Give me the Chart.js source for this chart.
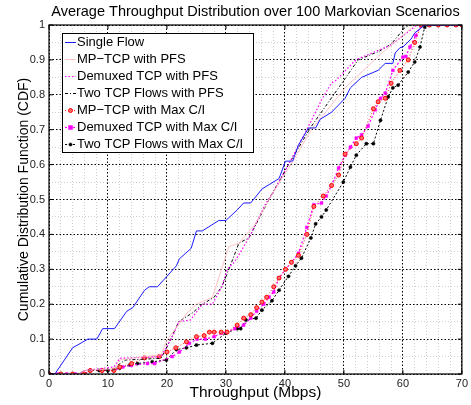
<!DOCTYPE html>
<html>
<head>
<meta charset="utf-8">
<script src="https://cdn.jsdelivr.net/npm/chart.js"></script>
<style>
  html, body { margin: 0; padding: 0; background: #fff; }
  canvas { display: block; }
</style>
</head>
<body>
<canvas id="cdfChart" width="471" height="405"></canvas>
<script>
var chartTitle = 'Average Throughput Distribution over 100 Markovian Scenarios';
var seriesNames = [
  'Single Flow',
  'MP\u2212TCP with PFS',
  'Demuxed TCP with PFS',
  'Two TCP Flows with PFS',
  'MP\u2212TCP with Max C/I',
  'Demuxed TCP with Max C/I',
  'Two TCP Flows with Max C/I'
];
var xTickLabels = [0, 10, 20, 30, 40, 50, 60, 70];
var yTickLabels = [0, 0.1, 0.2, 0.3, 0.4, 0.5, 0.6, 0.7, 0.8, 0.9, 1];

// [throughput Mbps, CDF]
var singleFlow = [[0,0],[1,0],[4,0.075],[6.6,0.1],[8.1,0.1],[9.1,0.13],[11.1,0.13],[13.2,0.18],[14.2,0.19],
  [16.2,0.24],[17,0.25],[18.4,0.25],[20,0.28],[21.6,0.31],[22.1,0.33],[24.1,0.36],[25,0.41],[26,0.41],
  [28.8,0.44],[30,0.44],[31.9,0.47],[33,0.49],[34.2,0.49],[36.1,0.53],[39,0.56],[40.1,0.61],[41.3,0.61],
  [42.3,0.656],[44,0.705],[45.2,0.705],[46,0.73],[47.9,0.75],[50.2,0.79],[51.1,0.82],[53,0.85],[55.8,0.87],
  [57,0.89],[58.3,0.89],[58.7,0.92],[59.5,0.935],[60,0.937],[61.4,0.96],[62,0.977],[63.7,1],[70,1]];
var mptcpPfs = [[0,0],[5,0],[6,0.01],[11,0.015],[12,0.04],[16,0.05],[19,0.055],[20,0.097],[23.4,0.175],
  [25,0.2],[27.7,0.22],[30.5,0.365],[32.2,0.375],[35,0.43],[38,0.52],[41,0.6],[44.5,0.7],[50.2,0.82],
  [55.8,0.91],[61.4,0.99],[62,1],[70,1]];
var demuxPfs = [[0,0],[5,0],[6,0.01],[11,0.02],[12,0.045],[19,0.05],[20,0.08],[21,0.11],[22,0.15],[24,0.155],
  [26,0.2],[27.7,0.2],[29.3,0.25],[30.2,0.3],[31.4,0.32],[32.5,0.35],[34.2,0.4],[35.6,0.45],[36.8,0.49],
  [38,0.52],[40.6,0.6],[44,0.71],[46.2,0.785],[47.9,0.834],[48.7,0.842],[52,0.9],[58,0.943],[59.7,0.965],
  [62.4,1],[70,1]];
var twoTcpPfs = [[0,0],[5,0],[6,0.01],[11,0.012],[12,0.03],[13,0.04],[19,0.045],[20,0.077],[22,0.15],
  [24.3,0.175],[26,0.2],[28,0.22],[29.3,0.25],[30.5,0.3],[32.2,0.375],[33.9,0.39],[37.3,0.5],[40.6,0.6],
  [44.5,0.71],[49.1,0.82],[52.4,0.9],[56,0.925],[58,0.945],[60.4,0.994],[61.5,1],[70,1]];
var mptcpMaxCI = [[0,0],[2,0],[4,0],[6,0],[7,0.01],[9,0.01],[11,0.01],[12,0.02],[14,0.03],[16.2,0.046],
  [18.7,0.05],[20,0.063],[21.5,0.075],[23.3,0.092],[25,0.107],[26.3,0.11],[27.2,0.12],[28,0.12],[29.2,0.12],
  [30.2,0.12],[31.9,0.14],[33,0.16],[34.2,0.17],[35.2,0.19],[36.1,0.206],[36.9,0.22],[38.1,0.25],[39,0.275],
  [40.1,0.3],[41.1,0.32],[42.3,0.34],[43.7,0.4],[44.9,0.48],[46.5,0.51],[47.9,0.54],[49.1,0.57],[50.2,0.63],
  [52.1,0.66],[53,0.676],[55,0.76],[55.8,0.78],[57,0.79],[58,0.833],[59.5,0.87],[60.9,0.9],[62,0.95],
  [63.1,1],[64.5,1],[66,1],[67.5,1],[69,1],[70,1]];
var demuxMaxCI = [[0,0],[1.5,0],[3,0],[4.5,0],[6,0],[7,0.01],[9,0.01],[11,0.01],[12.5,0.02],[14,0.025],
  [16.7,0.03],[17.9,0.03],[20.9,0.05],[22.1,0.063],[23.8,0.088],[25.1,0.1],[26.5,0.1],[28,0.107],[29.2,0.117],
  [30.2,0.12],[31.5,0.13],[33,0.14],[34.2,0.16],[35.2,0.18],[36.4,0.2],[37.3,0.22],[38.1,0.235],[39,0.275],
  [40.1,0.3],[41.1,0.32],[42.3,0.346],[43.7,0.42],[44.9,0.485],[46.2,0.49],[47,0.51],[47.9,0.54],[49.1,0.59],
  [50.2,0.627],[51.1,0.65],[52.1,0.676],[53,0.685],[54.1,0.71],[55.3,0.757],[56.2,0.79],[57,0.805],[58.3,0.87],
  [60,0.908],[60.5,0.91],[61.2,0.937],[62.2,0.97],[63.1,1],[64.5,1],[66,1],[67.5,1],[69,1],[70,1]];
var twoTcpMaxCI = [[0,0],[2,0],[4,0],[6,0],[7,0.01],[8.5,0.01],[10,0.01],[11,0.012],[12,0.017],[13.7,0.026],
  [15,0.03],[17.5,0.035],[19.9,0.04],[21.6,0.07],[23.3,0.075],[25,0.083],[27.7,0.088],[30,0.117],[31.9,0.13],
  [32.5,0.13],[33.4,0.155],[35.1,0.16],[36.1,0.183],[37.8,0.21],[39,0.24],[40.6,0.28],[41.8,0.31],[42.8,0.332],
  [44.4,0.39],[45.2,0.43],[46.2,0.45],[47,0.47],[49.9,0.55],[51.1,0.593],[52.1,0.627],[53.8,0.66],[55,0.66],
  [56.2,0.727],[57.5,0.794],[58.3,0.82],[59.2,0.828],[60.9,0.865],[62,0.894],[62.9,0.937],[63.7,0.994],
  [64.3,1],[66,1],[67.5,1],[69,1],[70,1]];

var FONT = "'Liberation Sans', Arial, Helvetica, sans-serif";

function pts(arr) {
  return arr.map(function (p) { return { x: p[0], y: p[1] }; });
}

function isMajor(v, step) {
  return Math.abs(v / step - Math.round(v / step)) < 1e-6;
}

// title centred over the plot area, like the original figure
var titlePlugin = {
  id: 'plotTitle',
  afterDraw: function (chart) {
    var ctx = chart.ctx, a = chart.chartArea;
    ctx.save();
    ctx.font = '14.5px ' + FONT;
    ctx.fillStyle = '#000';
    ctx.textAlign = 'center';
    ctx.textBaseline = 'middle';
    ctx.fillText(chartTitle, (a.left + a.right) / 2, 12);
    ctx.restore();
  }
};

// box round the axes with inward ticks
var framePlugin = {
  id: 'frame',
  afterDatasetsDraw: function (chart) {
    var ctx = chart.ctx, a = chart.chartArea;
    var xs = chart.scales.x, ys = chart.scales.y;
    ctx.save();
    ctx.strokeStyle = '#000';
    ctx.lineWidth = 1.2;
    ctx.strokeRect(a.left, a.top, a.right - a.left, a.bottom - a.top);
    ctx.lineWidth = 1;
    ctx.beginPath();
    xTickLabels.forEach(function (v) {
      var px = xs.getPixelForValue(v);
      ctx.moveTo(px, a.bottom); ctx.lineTo(px, a.bottom - 4);
      ctx.moveTo(px, a.top); ctx.lineTo(px, a.top + 4);
    });
    yTickLabels.forEach(function (v) {
      var py = ys.getPixelForValue(v);
      ctx.moveTo(a.left, py); ctx.lineTo(a.left + 4, py);
      ctx.moveTo(a.right, py); ctx.lineTo(a.right - 4, py);
    });
    ctx.stroke();
    ctx.restore();
  }
};

var legendPlugin = {
  id: 'boxLegend',
  afterDatasetsDraw: function (chart) {
    var ctx = chart.ctx, a = chart.chartArea;
    var ds = chart.data.datasets;
    var x0 = a.left + 13, y0 = a.top + 8, w = 191, h = 119, rowH = 17;
    ctx.save();
    ctx.fillStyle = '#fff';
    ctx.fillRect(x0, y0, w, h);
    ctx.strokeStyle = '#000';
    ctx.lineWidth = 1;
    ctx.strokeRect(x0 + 0.5, y0 + 0.5, w, h);
    ctx.font = '13px ' + FONT;
    ctx.textBaseline = 'middle';
    ds.forEach(function (d, i) {
      var cy = y0 + 9.5 + i * rowH;
      ctx.strokeStyle = d.borderColor;
      ctx.lineWidth = d.borderWidth;
      ctx.setLineDash(d.borderDash || []);
      ctx.beginPath();
      ctx.moveTo(x0 + 3, cy); ctx.lineTo(x0 + 14, cy);
      ctx.stroke();
      ctx.setLineDash([]);
      if (d.pointRadius > 0) {
        ctx.fillStyle = d.pointBackgroundColor;
        ctx.strokeStyle = d.pointBorderColor;
        ctx.lineWidth = d.pointBorderWidth;
        ctx.beginPath();
        if (d.pointStyle === 'rect') {
          ctx.rect(x0 + 8.5 - d.pointRadius, cy - d.pointRadius, d.pointRadius * 2, d.pointRadius * 2);
        } else {
          ctx.arc(x0 + 8.5, cy, d.pointRadius, 0, Math.PI * 2);
        }
        ctx.fill();
        ctx.stroke();
      }
      ctx.fillStyle = '#000';
      ctx.fillText(d.label, x0 + 15, cy);
    });
    ctx.restore();
  }
};

var lineSeries = [
  { label: seriesNames[0], data: pts(singleFlow), borderColor: '#1a1aff', borderWidth: 1, borderDash: [], pointRadius: 0 },
  { label: seriesNames[1], data: pts(mptcpPfs), borderColor: '#ffb4b4', borderWidth: 0.8, borderDash: [], pointRadius: 0 },
  { label: seriesNames[2], data: pts(demuxPfs), borderColor: '#ff00ff', borderWidth: 1.2, borderDash: [1.5, 2], pointRadius: 0 },
  { label: seriesNames[3], data: pts(twoTcpPfs), borderColor: '#000000', borderWidth: 1, borderDash: [3, 2, 1, 2], pointRadius: 0 },
  { label: seriesNames[4], data: pts(mptcpMaxCI), borderColor: '#ff2020', borderWidth: 1, borderDash: [1, 2],
    pointRadius: 2, pointStyle: 'circle', pointBackgroundColor: '#ff7070', pointBorderColor: '#ff0000', pointBorderWidth: 1 },
  { label: seriesNames[5], data: pts(demuxMaxCI), borderColor: '#ff00ff', borderWidth: 1.2, borderDash: [2, 2],
    pointRadius: 2, pointStyle: 'rect', pointBackgroundColor: '#ff00ff', pointBorderColor: '#ff00ff', pointBorderWidth: 0.5 },
  { label: seriesNames[6], data: pts(twoTcpMaxCI), borderColor: '#000000', borderWidth: 1, borderDash: [2, 2],
    pointRadius: 1.6, pointStyle: 'circle', pointBackgroundColor: '#000000', pointBorderColor: '#000000', pointBorderWidth: 0.5 }
];
lineSeries.forEach(function (s) {
  s.fill = false;
  s.tension = 0;
  s.pointHoverRadius = s.pointRadius;
});

var gridColor = function (step) {
  return function (c) { return isMajor(c.tick.value, step) ? '#000000' : '#cfcfcf'; };
};
var gridDash = function (step) {
  return function (c) { return isMajor(c.tick.value, step) ? [1.5, 2] : [1, 2]; };
};

new Chart(document.getElementById('cdfChart').getContext('2d'), {
  type: 'line',
  data: { datasets: lineSeries },
  options: {
    responsive: false,
    animation: false,
    events: [],
    layout: { padding: { top: 25, right: 7, left: 0, bottom: 0 } },
    plugins: { legend: { display: false }, title: { display: false }, tooltip: { enabled: false } },
    scales: {
      x: {
        type: 'linear', min: 0, max: 70,
        afterFit: function (s) { s.height = 31; },
        grid: { color: gridColor(10), lineWidth: 1, drawTicks: false },
        border: { display: false, dash: gridDash(10) },
        ticks: {
          stepSize: 2, autoSkip: false, maxRotation: 0, padding: 3, color: '#222',
          font: { family: FONT, size: 11 },
          callback: function (v) { return isMajor(v, 10) ? String(v) : ''; }
        },
        title: { display: true, text: 'Throughput (Mbps)', color: '#000', font: { family: FONT, size: 15.5 }, padding: { top: 0, bottom: 3 } }
      },
      y: {
        type: 'linear', min: 0, max: 1,
        afterFit: function (s) { s.width = 49; },
        grid: { color: gridColor(0.1), lineWidth: 1, drawTicks: false },
        border: { display: false, dash: gridDash(0.1) },
        ticks: {
          stepSize: 0.05, autoSkip: false, padding: 4, color: '#222',
          font: { family: FONT, size: 11 },
          callback: function (v) { return isMajor(v, 0.1) ? String(Math.round(v * 10) / 10) : ''; }
        },
        title: { display: true, text: 'Cumulative Distribution Function (CDF)', color: '#000', font: { family: FONT, size: 14 }, padding: { top: 16, bottom: 0 } }
      }
    }
  },
  plugins: [titlePlugin, framePlugin, legendPlugin]
});
</script>
</body>
</html>
